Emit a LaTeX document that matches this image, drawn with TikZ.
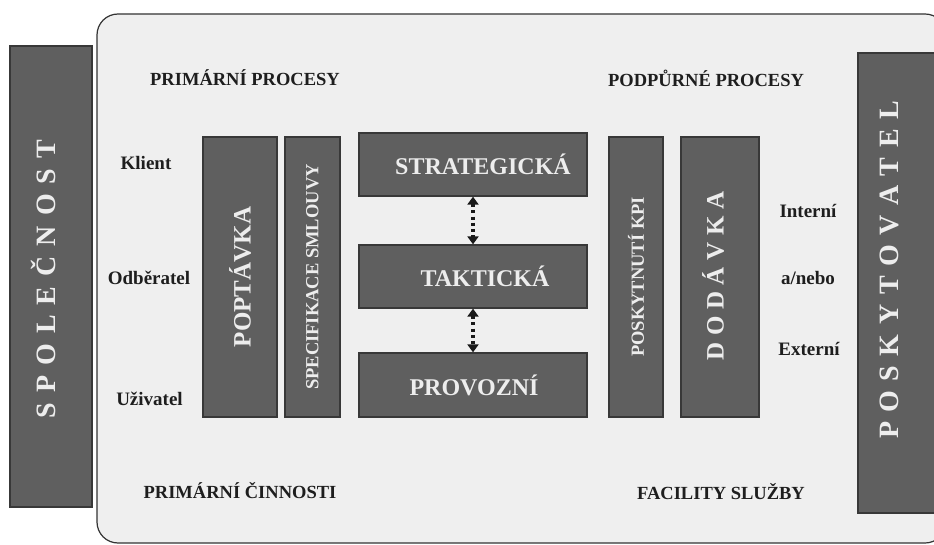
\documentclass[tikz,border=0pt]{standalone}
\usepackage{fontspec}
\setmainfont{Liberation Serif}
\usetikzlibrary{arrows.meta}
\definecolor{boxgray}{HTML}{5F5F5F}
\definecolor{boxedge}{HTML}{383838}
\definecolor{bggray}{HTML}{EFEFEF}
\definecolor{boxtext}{HTML}{EDEDED}
\definecolor{labtext}{HTML}{1E1E1E}
\newcommand\fs[1]{\fontsize{#1}{#1}\selectfont}
\begin{document}
\begin{tikzpicture}[x=1pt,y=-1pt,
  darkbox/.style={draw=boxedge, line width=1.3pt, fill=boxgray, inner sep=0pt, text=boxtext, font=\bfseries},
  vbox/.style={darkbox, rotate=90},
  boxlabel/.style={inner sep=0pt, text=boxtext, font=\bfseries},
  caption/.style={inner sep=0pt, anchor=base, text=labtext, font=\bfseries\fs{18.5}},
  side/.style={inner sep=0pt, anchor=base, text=labtext, font=\bfseries\fs{19}},
  link/.style={line width=3.6pt, dash pattern=on 3pt off 3.2pt, draw=black!90,
    {Triangle[length=8pt,width=11pt]}-{Triangle[length=8pt,width=11pt]}}
]
\useasboundingbox (0,0) rectangle (934,545);
\fill[white] (0,0) rectangle (934,545);
% outer frame
\draw[fill=bggray, draw=black!80, line width=1.2pt, rounded corners=21pt] (97,14) rectangle (946,543);

% side boxes
\node[vbox, minimum width=461pt, minimum height=82pt] (spol) at (51,276.5) {};
\node[boxlabel, rotate=90, font=\bfseries\fs{28}] (spoltxt) at (43,279)
  {S\kern10pt P\kern10pt O\kern10pt L\kern10pt E\kern10pt Č\kern10pt N\kern10pt O\kern10pt S\kern10pt T};
\node[vbox, minimum width=460pt, minimum height=87pt] (posk) at (901.5,283) {};
\node[boxlabel, rotate=90, font=\bfseries\fs{28}] (posktxt) at (889,270)
  {P\kern9.5pt O\kern9.5pt S\kern9.5pt K\kern9.5pt Y\kern9.5pt T\kern9.5pt O\kern9.5pt V\kern9.5pt A\kern9.5pt T\kern9.5pt E\kern9.5pt L};

% captions
\node[caption] (pp) at (245,86) {PRIMÁRNÍ PROCESY};
\node[caption] (podp) at (706,86.5) {PODPŮRNÉ PROCESY};
\node[caption] (pc) at (240,498) {PRIMÁRNÍ ČINNOSTI};
\node[caption] (fs) at (721,499) {FACILITY SLUŽBY};

% side labels
\node[side] (klient) at (146,170) {Klient};
\node[side] (odb) at (149,285) {Odběratel};
\node[side] (uziv) at (149.5,405) {Uživatel};
\node[side] (int) at (808,218) {Interní};
\node[side] (anebo) at (808,285) {a/nebo};
\node[side] (ext) at (809,355) {Externí};

% vertical process boxes
\node[vbox, minimum width=280pt, minimum height=74pt, font=\bfseries\fs{25}] (popt) at (240,277) {POPTÁVKA};
\node[vbox, minimum width=280pt, minimum height=55pt, font=\bfseries\fs{18.5}] (spec) at (312.5,277) {SPECIFIKACE SMLOUVY};
\node[vbox, minimum width=280pt, minimum height=54pt, font=\bfseries\fs{18.5}] (kpi) at (636,277) {POSKYTNUTÍ KPI};
\node[vbox, minimum width=280pt, minimum height=78pt] (dod) at (720,277) {};
\node[boxlabel, rotate=90, font=\bfseries\fs{25}] (dodtxt) at (713,276)
  {D\kern6.5pt O\kern6.5pt D\kern6.5pt Á\kern6.5pt V\kern6.5pt K\kern6.5pt A};

% management levels
\node[darkbox, minimum width=228pt, minimum height=63pt, font=\bfseries\fs{24}] (strat) at (473,164.5) {\hspace{20pt}STRATEGICKÁ};
\node[darkbox, minimum width=228pt, minimum height=63pt, font=\bfseries\fs{24}] (takt) at (473,276.5) {\hspace{24pt}TAKTICKÁ};
\node[darkbox, minimum width=228pt, minimum height=64pt, font=\bfseries\fs{24}] (prov) at (473,385) {\hspace{2pt}PROVOZNÍ};

% links
\draw[link] (strat.south) -- (takt.north);
\draw[link] (takt.south) -- (prov.north);
\end{tikzpicture}
\end{document}
